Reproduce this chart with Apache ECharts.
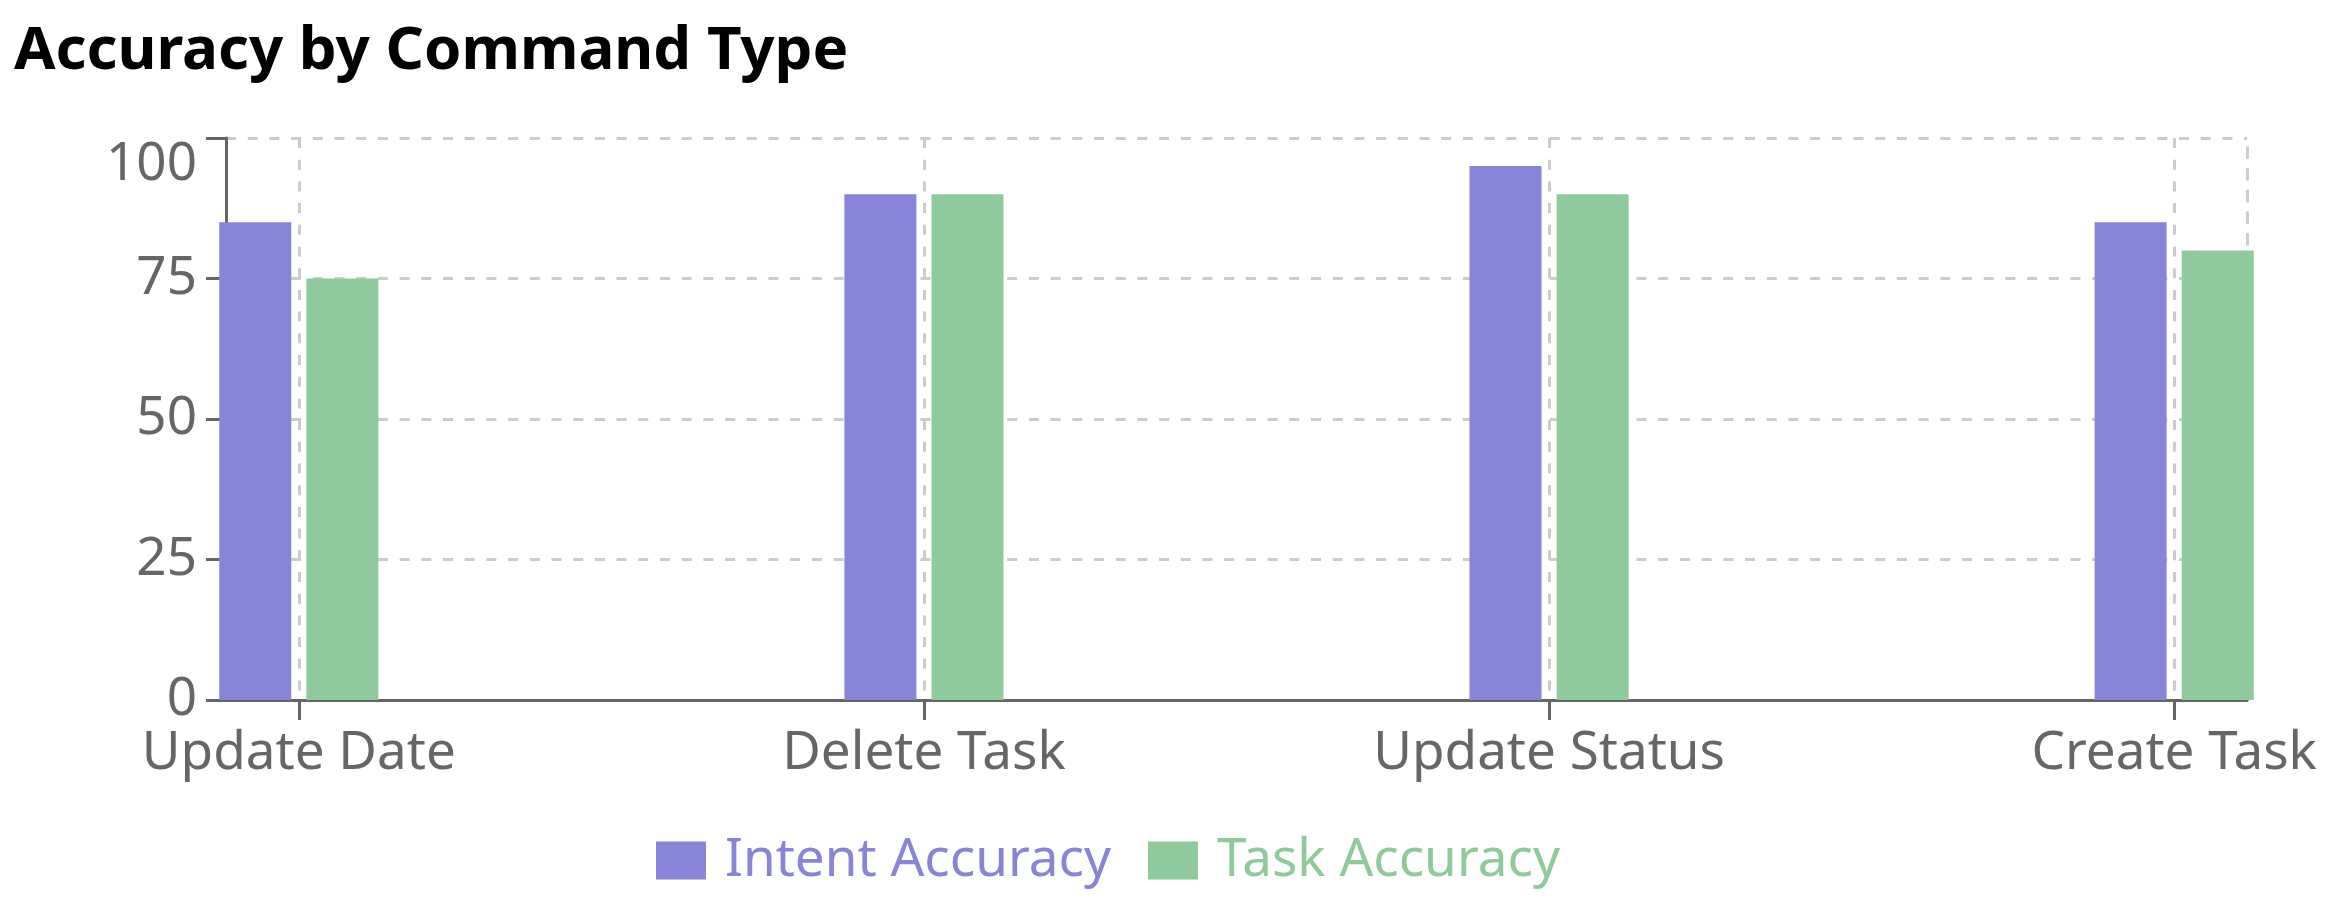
<!DOCTYPE html>
<html>
<head>
<meta charset="utf-8">
<title>Accuracy by Command Type</title>
<script src="https://cdn.jsdelivr.net/npm/echarts@6/dist/echarts.min.js"></script>
<style>
  html, body { margin: 0; padding: 0; background: #fff; }
  #chart { width: 2337px; height: 900px; }
</style>
</head>
<body>
<div id="chart"></div>
<script>
// data
const commandTypes = ["Update Date", "Delete Task", "Update Status", "Create Task"];
const intentAccuracy = [85, 90, 95, 85];
const taskAccuracy = [75, 90, 90, 80];
const seriesNames = ["Intent Accuracy", "Task Accuracy"];
const seriesColors = ["#8884d8", "#8fca9c"];

const FONT = "'Noto Sans', 'Open Sans', sans-serif";
const AXIS_COLOR = "#666";
const GRID_COLOR = "#ccc";
const DASH = [10, 11.7];

// categories sit on a numeric axis so the plot can keep some padding on both sides
const positions = commandTypes.map((_, i) => i);
const pad = 0.1165;

const chart = echarts.init(document.getElementById("chart"));

const option = {
  animation: false,
  title: {
    text: "Accuracy by Command Type",
    left: 9,
    top: 17,
    textStyle: { fontFamily: FONT, fontSize: 60, fontWeight: "bold", color: "#000" },
  },
  legend: {
    left: 656,
    top: 834,
    padding: 0,
    icon: "rect",
    itemWidth: 50,
    itemHeight: 38,
    itemGap: 37,
    data: seriesNames.map((name, i) => ({ name, textStyle: { color: seriesColors[i] } })),
    textStyle: { fontFamily: FONT, fontSize: 53, padding: [0, 0, 0, 14] },
  },
  grid: { left: 226, right: 90, top: 138, bottom: 200 },
  xAxis: {
    type: "value",
    min: -pad,
    max: commandTypes.length - 1 + pad,
    axisLine: { onZero: false, lineStyle: { color: AXIS_COLOR, width: 3 } },
    axisTick: {
      show: true,
      length: 20,
      customValues: positions,
      lineStyle: { color: AXIS_COLOR, width: 3 },
    },
    axisLabel: {
      customValues: positions,
      formatter: (v) => commandTypes[Math.round(v)] || "",
      margin: 27,
      fontFamily: FONT,
      fontSize: 53,
      color: AXIS_COLOR,
    },
    splitLine: { show: true, lineStyle: { color: GRID_COLOR, type: DASH, width: 3 } },
  },
  yAxis: [
    {
      type: "value",
      min: 0,
      max: 100,
      interval: 25,
      axisLine: { show: true, onZero: false, lineStyle: { color: AXIS_COLOR, width: 3 } },
      axisTick: { show: true, length: 20, lineStyle: { color: AXIS_COLOR, width: 3 } },
      axisLabel: {
        margin: 29,
        fontFamily: FONT,
        fontSize: 53,
        color: AXIS_COLOR,
        verticalAlignMaxLabel: "top",
      },
      splitLine: { show: true, lineStyle: { color: GRID_COLOR, type: DASH, width: 3 } },
    },
    {
      // dashed right border of the plot
      type: "value",
      position: "right",
      min: 0,
      max: 100,
      axisLine: { show: true, onZero: false, lineStyle: { color: GRID_COLOR, type: DASH, width: 3 } },
      axisTick: { show: false },
      axisLabel: { show: false },
      splitLine: { show: false },
    },
  ],
  series: [intentAccuracy, taskAccuracy].map((values, s) => ({
    name: seriesNames[s],
    type: "bar",
    data: positions.map((i) => [i, values[i]]),
    barWidth: 72,
    barGap: "21%",
    clip: false,
    itemStyle: { color: seriesColors[s] },
    emphasis: { disabled: true },
  })),
};

chart.setOption(option);
</script>
</body>
</html>
